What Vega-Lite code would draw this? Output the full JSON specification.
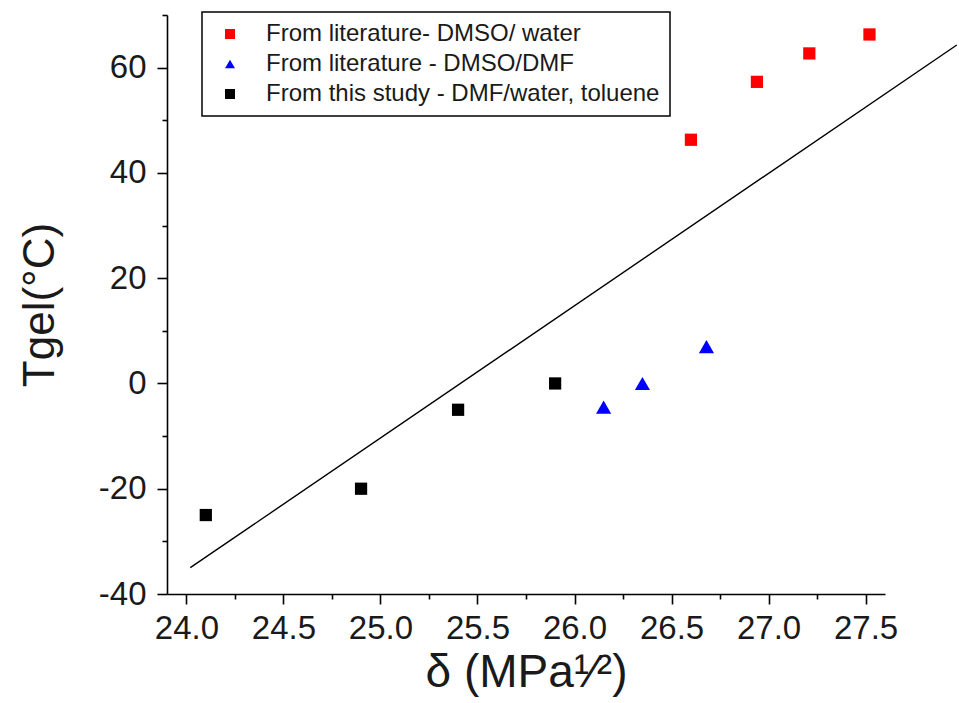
{
  "$schema": "https://vega.github.io/schema/vega-lite/v6.json",
  "width": 718,
  "height": 579,
  "autosize": "none",
  "padding": {"left": 167, "top": 15, "right": 74, "bottom": 109},
  "background": "white",
  "config": {
    "view": {"stroke": null},
    "axis": {
      "grid": false,
      "domainColor": "#000000",
      "domainWidth": 1.6,
      "tickColor": "#000000",
      "tickWidth": 1.6,
      "tickSize": 10,
      "labelFont": "Liberation Sans",
      "labelFontSize": 33,
      "labelColor": "#1a1a1a",
      "titleFont": "Liberation Sans",
      "titleFontWeight": "normal",
      "titleColor": "#1a1a1a"
    },
    "legend": {
      "labelFont": "Liberation Sans",
      "labelFontSize": 24,
      "labelColor": "#1a1a1a",
      "labelLimit": 600,
      "strokeColor": "#000000",
      "strokeWidth": 1.5,
      "fillColor": "#ffffff",
      "padding": 10,
      "symbolOffset": 6,
      "labelOffset": 24,
      "symbolSize": 100,
      "rowPadding": 6,
      "symbolStrokeWidth": 0
    }
  },
  "datasets": {
    "points": [
      {"d": 26.6, "t": 46.3, "series": "From literature- DMSO/ water"},
      {"d": 26.94, "t": 57.3, "series": "From literature- DMSO/ water"},
      {"d": 27.21, "t": 62.7, "series": "From literature- DMSO/ water"},
      {"d": 27.52, "t": 66.3, "series": "From literature- DMSO/ water"},
      {"d": 26.15, "t": -4.5, "series": "From literature - DMSO/DMF"},
      {"d": 26.35, "t": 0.0, "series": "From literature - DMSO/DMF"},
      {"d": 26.68, "t": 7.0, "series": "From literature - DMSO/DMF"},
      {"d": 24.1, "t": -25.0, "series": "From this study - DMF/water, toluene"},
      {"d": 24.9, "t": -20.0, "series": "From this study - DMF/water, toluene"},
      {"d": 25.4, "t": -5.0, "series": "From this study - DMF/water, toluene"},
      {"d": 25.9, "t": 0.0, "series": "From this study - DMF/water, toluene"}
    ],
    "fit": [
      {"d": 24.02, "t": -35.0},
      {"d": 27.97, "t": 64.3}
    ]
  },
  "layer": [
    {
      "data": {"name": "fit"},
      "mark": {"type": "line", "color": "#000000", "strokeWidth": 1.4},
      "encoding": {
        "x": {
          "field": "d", "type": "quantitative",
          "scale": {"domain": [23.9, 27.6], "nice": false, "zero": false},
          "axis": {"orient": "bottom", "values": [24.25, 24.75, 25.25, 25.75, 26.25, 26.75, 27.25], "labels": false, "domain": false, "tickSize": 5, "title": null}
        },
        "y": {
          "field": "t", "type": "quantitative",
          "scale": {"domain": [-40, 70], "nice": false, "zero": false},
          "axis": {"orient": "left", "values": [-30, -10, 10, 30, 50, 70], "labels": false, "domain": false, "tickSize": 5, "title": null}
        }
      }
    },
    {
      "data": {"name": "points"},
      "transform": [{"filter": "datum.series != 'From literature - DMSO/DMF'"}],
      "mark": {"type": "point", "filled": true, "opacity": 1, "size": 150},
      "encoding": {
        "x": {
          "field": "d", "type": "quantitative",
          "scale": {"domain": [23.9, 27.6], "nice": false, "zero": false},
          "axis": {"orient": "bottom", "values": [24, 24.5, 25, 25.5, 26, 26.5, 27, 27.5], "format": ".1f", "labelPadding": 8, "title": "δ (MPa¹⁄²)", "titleFontSize": 46, "titlePadding": 5}
        },
        "y": {
          "field": "t", "type": "quantitative",
          "scale": {"domain": [-40, 70], "nice": false, "zero": false},
          "axis": {"orient": "left", "values": [-40, -20, 0, 20, 40, 60], "labelExpr": "datum.value < 0 ? '-' + abs(datum.value) : '' + datum.value", "labelPadding": 11, "title": "Tgel(°C)", "titleFontSize": 44, "titlePadding": 36}
        },
        "color": {
          "field": "series", "type": "nominal",
          "scale": {"domain": ["From literature- DMSO/ water", "From literature - DMSO/DMF", "From this study - DMF/water, toluene"], "range": ["#ff0000", "#0000ff", "#000000"]},
          "legend": {"orient": "none", "legendX": 35, "legendY": -3, "title": null}
        },
        "shape": {
          "field": "series", "type": "nominal",
          "scale": {"domain": ["From literature- DMSO/ water", "From literature - DMSO/DMF", "From this study - DMF/water, toluene"], "range": ["square", "triangle-up", "square"]},
          "legend": {"orient": "none", "legendX": 35, "legendY": -3, "title": null}
        }
      }
    },
    {
      "data": {"name": "points"},
      "transform": [{"filter": "datum.series == 'From literature - DMSO/DMF'"}],
      "mark": {"type": "point", "filled": true, "opacity": 1, "size": 230},
      "encoding": {
        "x": {"field": "d", "type": "quantitative", "axis": null},
        "y": {"field": "t", "type": "quantitative", "axis": null},
        "color": {"field": "series", "type": "nominal"},
        "shape": {"field": "series", "type": "nominal"}
      }
    }
  ],
  "resolve": {"axis": {"x": "independent", "y": "independent"}}
}
